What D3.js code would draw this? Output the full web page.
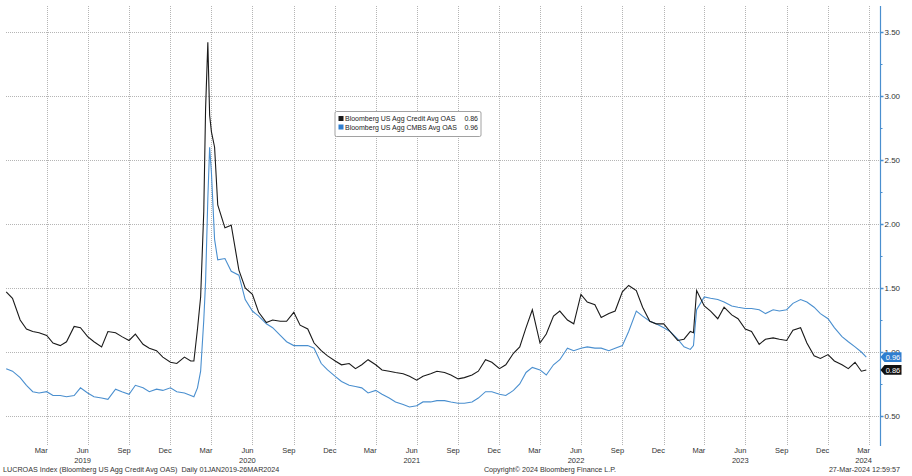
<!DOCTYPE html>
<html><head><meta charset="utf-8">
<script src="https://cdn.jsdelivr.net/npm/d3@7"></script>
<style>
body{margin:0;background:#fff}
svg{display:block}
text{font-family:"Liberation Sans",Arial,sans-serif}
</style>
</head><body>
<svg id="chart" width="912" height="476"></svg>
<script>
// ---------------- data ----------------
const dates = [
"2019-01-01","2019-01-15","2019-02-01","2019-02-15","2019-03-01","2019-03-15","2019-04-01","2019-04-15","2019-05-01","2019-05-15","2019-06-01","2019-06-15",
"2019-07-01","2019-07-15","2019-08-01","2019-08-15","2019-09-01","2019-09-15","2019-10-01","2019-10-15","2019-11-01","2019-11-15","2019-12-01","2019-12-15",
"2020-01-01","2020-01-15","2020-02-01","2020-02-15","2020-02-22","2020-03-01","2020-03-08","2020-03-15","2020-03-19","2020-03-24","2020-03-28","2020-04-01",
"2020-04-08","2020-04-15","2020-05-01","2020-05-15","2020-06-01","2020-06-15","2020-07-01","2020-07-15","2020-08-01","2020-08-15","2020-09-01","2020-09-15",
"2020-10-01","2020-10-15","2020-11-01","2020-11-15","2020-12-01","2020-12-15",
"2021-01-01","2021-01-15","2021-02-01","2021-02-15","2021-03-01","2021-03-15","2021-04-01","2021-04-15","2021-05-01","2021-05-15","2021-06-01","2021-06-15",
"2021-07-01","2021-07-15","2021-08-01","2021-08-15","2021-09-01","2021-09-15","2021-10-01","2021-10-15","2021-11-01","2021-11-15","2021-12-01","2021-12-15",
"2022-01-01","2022-01-15","2022-02-01","2022-02-15","2022-03-01","2022-03-15","2022-04-01","2022-04-15","2022-05-01","2022-05-15","2022-06-01","2022-06-15",
"2022-07-01","2022-07-15","2022-08-01","2022-08-15","2022-09-01","2022-09-15","2022-10-01","2022-10-15","2022-11-01","2022-11-15","2022-12-01","2022-12-15",
"2023-01-01","2023-01-15","2023-02-01","2023-02-15","2023-03-01","2023-03-08","2023-03-15","2023-04-01","2023-04-15","2023-05-01","2023-05-15","2023-06-01",
"2023-06-15","2023-07-01","2023-07-15","2023-08-01","2023-08-15","2023-09-01","2023-09-15","2023-10-01","2023-10-15","2023-11-01","2023-11-15","2023-12-01","2023-12-15",
"2024-01-01","2024-01-15","2024-02-01","2024-02-15","2024-03-01","2024-03-15","2024-03-26"
];
const creditOAS = [
1.47,1.42,1.25,1.18,1.16,1.15,1.13,1.07,1.05,1.08,1.20,1.19,
1.12,1.08,1.04,1.16,1.15,1.12,1.09,1.14,1.06,1.03,1.01,0.96,
0.92,0.91,0.96,0.93,0.93,1.18,1.43,2.10,2.90,3.42,2.85,2.72,
2.60,2.15,1.97,1.99,1.64,1.50,1.45,1.31,1.23,1.25,1.24,1.24,
1.31,1.21,1.18,1.07,1.01,0.97,
0.93,0.90,0.91,0.87,0.90,0.94,0.90,0.86,0.85,0.84,0.83,0.81,
0.78,0.81,0.83,0.85,0.84,0.82,0.79,0.80,0.82,0.85,0.94,0.92,
0.87,0.90,0.99,1.04,1.19,1.33,1.07,1.14,1.28,1.32,1.25,1.22,
1.45,1.39,1.37,1.27,1.30,1.32,1.47,1.52,1.48,1.35,1.24,1.22,
1.22,1.16,1.09,1.10,1.16,1.15,1.48,1.36,1.32,1.26,1.35,1.29,
1.26,1.18,1.16,1.06,1.10,1.11,1.10,1.09,1.17,1.19,1.07,0.97,0.95,
0.98,0.93,0.90,0.87,0.92,0.85,0.86
];
const cmbsOAS = [
0.87,0.85,0.80,0.74,0.69,0.68,0.69,0.66,0.66,0.65,0.66,0.72,
0.68,0.65,0.64,0.63,0.71,0.69,0.67,0.74,0.72,0.69,0.71,0.70,
0.72,0.69,0.68,0.66,0.65,0.72,0.85,1.25,1.55,2.20,2.60,2.40,
1.88,1.72,1.73,1.63,1.60,1.41,1.32,1.28,1.22,1.19,1.13,1.08,
1.05,1.05,1.05,1.03,0.91,0.86,
0.81,0.77,0.74,0.73,0.72,0.68,0.70,0.67,0.64,0.61,0.59,0.57,
0.58,0.61,0.61,0.62,0.62,0.61,0.60,0.60,0.61,0.64,0.69,0.69,
0.67,0.66,0.70,0.75,0.84,0.88,0.86,0.82,0.90,0.94,1.03,1.01,
1.03,1.04,1.03,1.03,1.01,1.03,1.05,1.16,1.32,1.28,1.24,1.22,
1.19,1.16,1.10,1.04,1.02,1.05,1.33,1.43,1.42,1.41,1.39,1.36,
1.35,1.34,1.34,1.33,1.30,1.33,1.32,1.33,1.38,1.41,1.39,1.35,1.30,
1.26,1.19,1.12,1.08,1.04,1.00,0.96
];
const seriesNames = ["Bloomberg US Agg Credit Avg OAS","Bloomberg US Agg CMBS Avg OAS"];
const lastValues = ["0.86","0.96"];
const yTickValues = [0.5,1.0,1.5,2.0,2.5,3.0,3.5];
const yMinorValues = [0.75,1.25,1.75,2.25,2.75,3.25];
const monthNames = ["Mar","Jun","Sep","Dec"];
const yearLabels = ["2019","2020","2021","2022","2023","2024"];
const footerLeft = "LUCROAS Index (Bloomberg US Agg Credit Avg OAS)  Daily 01JAN2019-26MAR2024";
const footerMid = "Copyright\u00A9 2024 Bloomberg Finance L.P.";
const footerRight = "27-Mar-2024 12:59:57";

// ---------------- drawing ----------------
const svg = d3.select("#chart");
const parse = d3.utcParse("%Y-%m-%d");
const pts = dates.map((d,i)=>({date:parse(d), credit:creditOAS[i], cmbs:cmbsOAS[i]}));

const plotL = 6, plotR = 880.5, plotT = 6, plotB = 445;
const x = d3.scaleUtc().domain([parse("2019-01-01"), parse("2024-04-01")]).range([6.2, 869]);
const y = d3.scaleLinear().domain([0.5, 3.5]).range([416, 32]);

const BLUE = "#4a8fcf", AXIS = "#4a8fcf", BLACK = "#1a1a1a", GRID = "#b5b5b5", TXT = "#333";

// horizontal grid
svg.append("g").selectAll("line").data(yTickValues).join("line")
  .attr("x1", plotL).attr("x2", plotR)
  .attr("y1", d=>y(d)+0.5).attr("y2", d=>y(d)+0.5)
  .attr("stroke", GRID).attr("stroke-width",1).attr("stroke-dasharray","1,1");

// vertical grid at quarter boundaries
const qLines = d3.utcMonths(parse("2019-04-01"), parse("2024-04-02"), 3);
svg.append("g").selectAll("line").data(qLines).join("line")
  .attr("x1", d=>Math.round(x(d))+0.5).attr("x2", d=>Math.round(x(d))+0.5)
  .attr("y1", plotT).attr("y2", plotB)
  .attr("stroke", GRID).attr("stroke-width",1).attr("stroke-dasharray","1,1");

// lines
const lineC = d3.line().x(d=>x(d.date)).y(d=>y(d.credit));
const lineM = d3.line().x(d=>x(d.date)).y(d=>y(d.cmbs));
svg.append("path").datum(pts).attr("d", lineM).attr("fill","none").attr("stroke",BLUE).attr("stroke-width",1.1);
svg.append("path").datum(pts).attr("d", lineC).attr("fill","none").attr("stroke",BLACK).attr("stroke-width",1.1);

// right axis
const yAxis = d3.axisRight(y).tickValues(yTickValues).tickFormat(d3.format(".2f")).tickSize(3).tickPadding(1);
const gy = svg.append("g").attr("transform",`translate(${plotR},0)`).call(yAxis);
gy.select(".domain").remove();
gy.selectAll(".tick line").attr("stroke", AXIS).attr("stroke-width",1.5);
gy.selectAll(".tick text").attr("fill", TXT).style("font-size","8px");
const yMinor = d3.axisRight(y).tickValues(yMinorValues).tickFormat("").tickSize(2);
const gym = svg.append("g").attr("transform",`translate(${plotR},0)`).call(yMinor);
gym.select(".domain").remove();
gym.selectAll(".tick line").attr("stroke", AXIS);
svg.append("line").attr("x1",plotR).attr("x2",plotR).attr("y1",plotT).attr("y2",plotB+1)
  .attr("stroke",AXIS).attr("stroke-width",1.2);

// last-value tags
const tags = [{v:cmbsOAS[cmbsOAS.length-1], label:lastValues[1], fill:"#2f7ecf"},
              {v:creditOAS[creditOAS.length-1], label:lastValues[0], fill:"#111"}];
tags.forEach(t=>{
  const cy = y(t.v);
  svg.append("path")
    .attr("d",`M${plotR},${cy} L${plotR+4},${cy-4.8} L${plotR+21},${cy-4.8} L${plotR+21},${cy+4.8} L${plotR+4},${cy+4.8} Z`)
    .attr("fill", t.fill);
  svg.append("text").attr("x", plotR+12.5).attr("y", cy+3).attr("text-anchor","middle")
    .attr("fill","#fff").style("font-size","7.5px").text(t.label);
});

// x labels
const mLabels = d3.utcMonths(parse("2019-03-01"), parse("2024-03-02"), 3);
svg.append("g").selectAll("text").data(mLabels).join("text")
  .attr("x", d=>x(d3.utcDay.offset(d, 19))).attr("y", 453)
  .attr("text-anchor","middle").attr("fill",TXT).style("font-size","7.5px")
  .text(d=>monthNames[[2,5,8,11].indexOf(d.getUTCMonth())]);
svg.append("g").selectAll("text").data(yearLabels).join("text")
  .attr("x", d=> d==="2024" ? x(parse("2024-03-20")) : x(parse(d+"-06-20")))
  .attr("y", 463).attr("text-anchor","middle").attr("fill",TXT).style("font-size","7.5px")
  .text(d=>d);

// footer
svg.append("text").attr("x",3).attr("y",472).attr("fill",TXT).style("font-size","7.2px")
  .attr("xml:space","preserve").style("white-space","pre").text(footerLeft);
svg.append("text").attr("x",550).attr("y",472).attr("text-anchor","middle").attr("fill",TXT).style("font-size","7.2px").text(footerMid);
svg.append("text").attr("x",900).attr("y",472).attr("text-anchor","end").attr("fill",TXT).style("font-size","7.2px").text(footerRight);

// legend
const lg = svg.append("g").attr("transform","translate(335,111.5)");
lg.append("rect").attr("width",146).attr("height",25).attr("rx",1.5)
  .attr("fill","#fff").attr("stroke","#8a8a8a").attr("stroke-width",0.8);
const legColors = [BLACK, "#2f7ecf"];
seriesNames.forEach((n,i)=>{
  const ry = 8.5 + i*8.5;
  lg.append("rect").attr("x",3.5).attr("y",ry-4).attr("width",5).attr("height",5).attr("fill",legColors[i]);
  lg.append("text").attr("x",10).attr("y",ry+1.2).attr("fill","#222").style("font-size","7px").text(n);
  lg.append("text").attr("x",143).attr("y",ry+1.2).attr("text-anchor","end").attr("fill","#222").style("font-size","7px").text(lastValues[i]);
});
</script>
</body></html>
